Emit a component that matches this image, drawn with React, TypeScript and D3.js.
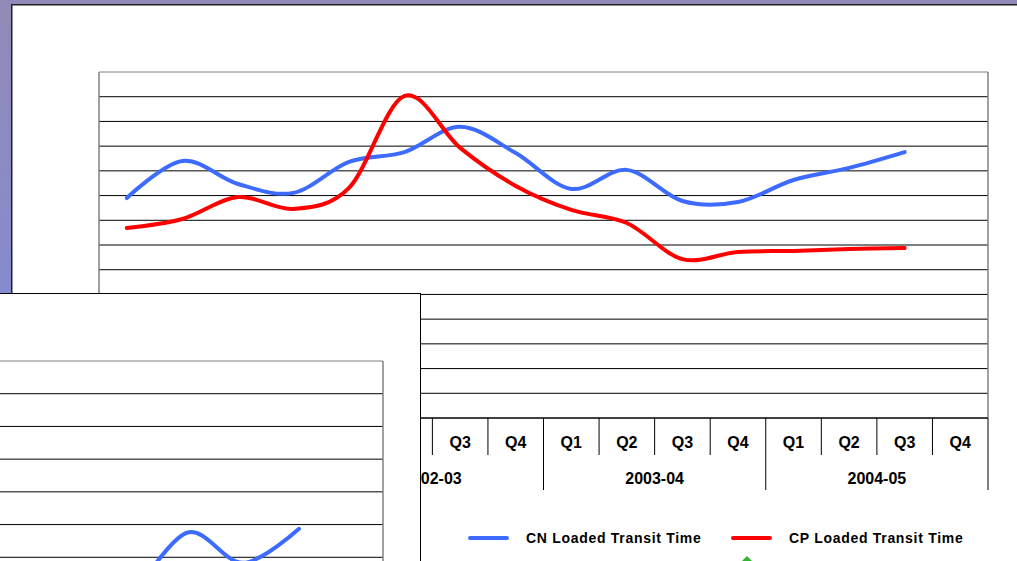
import React from "react";
import * as d3 from "d3";

// ---- Data ----
const quarterLabels = ["Q1", "Q2", "Q3", "Q4"];
const fiscalYears = ["2001-02", "2002-03", "2003-04", "2004-05"];
const cnTransit: (number | null)[] = [89.0, 104.0, 94.7, 91.1, 103.6, 107.6, 117.8, 107.2, 92.7, 100.4, 87.8, 87.4, 96.3, 101.2, 107.6, null];
const cpTransit: (number | null)[] = [76.9, 80.5, 89.4, 84.6, 93.1, 130.3, 109.3, 93.9, 84.2, 78.9, 64.3, 67.2, 67.6, 68.4, 68.8, null];
// partially visible series on the overlapping slide (lower left)
const overlayTransit: (number | null)[] = [null, null, null, null, null, null, null, null, null, null, null, 67.0, 87.5, 78.3, 88.7, null];
const yTicks = d3.range(0, 141, 10);
const seriesNames = ["CN Loaded Transit Time", "CP Loaded Transit Time"];

const categories = fiscalYears.flatMap((fy) => quarterLabels.map((q) => `${fy} ${q}`));

const W = 1017;
const H = 561;
const FONT = "'Liberation Sans', Arial, sans-serif";

export default function App() {
  React.useEffect(() => {
    document.body.style.margin = "0";
  }, []);

  // main chart
  const plot = { left: 99, right: 988, top: 72, bottom: 418 };
  const x = d3.scaleBand<string>().domain(categories).range([plot.left, plot.right]).padding(0);
  const y = d3.scaleLinear().domain([0, 140]).range([plot.bottom, plot.top]);
  const cx = (i: number) => (x(categories[i]) as number) + x.bandwidth() / 2;

  const lineGen = (ys: d3.ScaleLinear<number, number>, xs: (i: number) => number) =>
    d3
      .line<number | null>()
      .defined((d) => d != null)
      .x((_, i) => xs(i))
      .y((d) => ys(d as number))
      .curve(d3.curveCardinal.tension(0));

  const mainLine = lineGen(y, cx);

  // overlay chart (another slide partially covering)
  const oPlot = { left: -513, right: 383, top: 361, bottom: 819 };
  const ox = d3.scaleBand<string>().domain(categories).range([oPlot.left, oPlot.right]).padding(0);
  const oy = d3.scaleLinear().domain([0, 140]).range([oPlot.bottom, oPlot.top]);
  const ocx = (i: number) => (ox(categories[i]) as number) + ox.bandwidth() / 2;
  const overlayLine = lineGen(oy, ocx);

  const boundaries = d3.range(0, categories.length + 1).map((k) => plot.left + k * x.bandwidth());

  return (
    <svg
      width={W}
      height={H}
      style={{ position: "absolute", left: 0, top: 0, display: "block" }}
      fontFamily={FONT}
    >
      <defs>
        <linearGradient id="leftBand" x1="0" y1="0" x2="0" y2="1">
          <stop offset="0" stopColor="#928bb6" />
          <stop offset="1" stopColor="#7b89e4" />
        </linearGradient>
      </defs>
      {/* slide background */}
      <rect x={0} y={0} width={W} height={H} fill="url(#leftBand)" />
      <rect x={0} y={0} width={W} height={5} fill="#8f8ab8" />
      {/* main white panel */}
      <rect x={11} y={4} width={W} height={H} fill="#222" />
      <rect x={12.5} y={5.5} width={W} height={H} fill="#fff" />

      {/* gridlines */}
      {yTicks.map((t) => (
        <line key={t} x1={plot.left} x2={plot.right} y1={y(t)} y2={y(t)} stroke={t === 140 ? "#808080" : "#000"} strokeWidth={1} />
      ))}
      <line x1={plot.left} x2={plot.left} y1={plot.top} y2={plot.bottom} stroke="#808080" strokeWidth={1.5} />
      <line x1={plot.right} x2={plot.right} y1={plot.top} y2={plot.bottom} stroke="#808080" strokeWidth={1.5} />
      <line x1={plot.left} x2={plot.right} y1={plot.bottom} y2={plot.bottom} stroke="#000" strokeWidth={1.2} />

      {/* category ticks */}
      {boundaries.map((bx, k) => (
        <line key={k} x1={bx} x2={bx} y1={plot.bottom} y2={k % 4 === 0 ? 490 : 455} stroke="#000" strokeWidth={1} />
      ))}
      {categories.map((c, i) => (
        <text key={c} x={cx(i)} y={448} textAnchor="middle" fontSize={16} fontWeight="bold" fill="#000">
          {quarterLabels[i % 4]}
        </text>
      ))}
      {fiscalYears.map((fy, j) => (
        <text key={fy} x={(cx(j * 4 + 1) + cx(j * 4 + 2)) / 2} y={484} textAnchor="middle" fontSize={16} fontWeight="bold" fill="#000">
          {fy}
        </text>
      ))}

      {/* series */}
      <path d={mainLine(cnTransit) || ""} fill="none" stroke="#3d6bff" strokeWidth={4} strokeLinejoin="round" strokeLinecap="round" />
      <path d={mainLine(cpTransit) || ""} fill="none" stroke="#ff0000" strokeWidth={4} strokeLinejoin="round" strokeLinecap="round" />

      {/* legend */}
      <line x1={470} x2={507} y1={538} y2={538} stroke="#3d6bff" strokeWidth={4} strokeLinecap="round" />
      <text x={526} y={543} fontSize={14} fontWeight="bold" letterSpacing={0.7} fill="#000">
        {seriesNames[0]}
      </text>
      <line x1={733} x2={770} y1={538} y2={538} stroke="#ff0000" strokeWidth={4} strokeLinecap="round" />
      <text x={789} y={543} fontSize={14} fontWeight="bold" letterSpacing={0.7} fill="#000">
        {seriesNames[1]}
      </text>
      <path d="M747,556 L754,563 L747,570 L740,563 Z" fill="#2fb52f" />

      {/* overlapping slide, lower left */}
      <rect x={-5} y={293.5} width={425.5} height={300} fill="#fff" stroke="#000" strokeWidth={1} />
      <g>
        {yTicks.map((t) =>
          oy(t) < H + 2 ? (
            <line key={t} x1={0} x2={oPlot.right} y1={oy(t)} y2={oy(t)} stroke={t === 140 ? "#808080" : "#000"} strokeWidth={1} />
          ) : null
        )}
        <line x1={oPlot.right} x2={oPlot.right} y1={oPlot.top} y2={H} stroke="#808080" strokeWidth={1.5} />
        <path d={overlayLine(overlayTransit) || ""} fill="none" stroke="#3d6bff" strokeWidth={4} strokeLinejoin="round" strokeLinecap="round" />
      </g>
    </svg>
  );
}
